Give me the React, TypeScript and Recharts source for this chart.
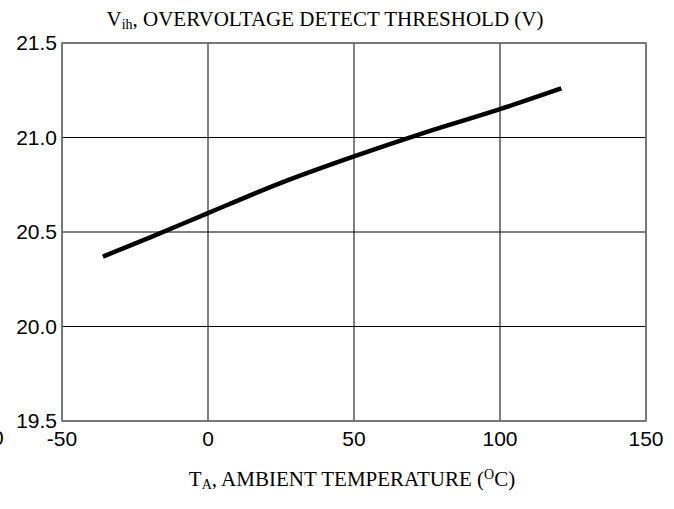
import React from "react";
import {
  CartesianGrid,
  Line,
  LineChart,
  ReferenceArea,
  XAxis,
  YAxis,
} from "recharts";

const temps = [-36, -20, 0, 25, 50, 75, 100, 121];
const thresholds = [20.37, 20.47, 20.6, 20.76, 20.9, 21.03, 21.15, 21.26];
const xTicks = [-50, 0, 50, 100, 150];
const yTicks = [19.5, 20.0, 20.5, 21.0, 21.5];

const data = temps.map((t, i) => ({ t, v: thresholds[i] }));

const sans = "'Liberation Sans', Arial, sans-serif";
const serif = "'Liberation Serif', 'Times New Roman', serif";

export default function App() {
  return (
    <div
      style={{
        position: "absolute",
        left: 0,
        top: 0,
        width: 674,
        height: 509,
        background: "#fff",
        overflow: "hidden",
      }}
    >
      <div
        style={{
          position: "absolute",
          left: 0,
          width: 650,
          top: 7,
          textAlign: "center",
          fontFamily: serif,
          fontSize: 21,
          lineHeight: "24px",
          color: "#000",
          whiteSpace: "nowrap",
        }}
      >
        V<sub style={{ fontSize: 14, verticalAlign: "-3px" }}>ih</sub>, OVERVOLTAGE
        DETECT THRESHOLD (V)
      </div>
      <div
        style={{
          position: "absolute",
          left: 0,
          width: 704,
          top: 463,
          textAlign: "center",
          fontFamily: serif,
          fontSize: 21,
          lineHeight: "24px",
          color: "#000",
          whiteSpace: "nowrap",
        }}
      >
        T<sub style={{ fontSize: 14, verticalAlign: "-3px" }}>A</sub>, AMBIENT
        TEMPERATURE (<sup style={{ fontSize: 14, verticalAlign: "7px" }}>O</sup>C)
      </div>
      <div
        style={{
          position: "absolute",
          left: -8,
          top: 426,
          fontFamily: sans,
          fontSize: 21,
          lineHeight: "24px",
          color: "#000",
        }}
      >
        0
      </div>
      <LineChart
        width={674}
        height={509}
        data={data}
        margin={{ top: 43, right: 28, left: 0, bottom: 0 }}
      >
        <CartesianGrid stroke="#000" strokeWidth={1} />
        <XAxis
          dataKey="t"
          type="number"
          domain={[-50, 150]}
          ticks={xTicks}
          height={88}
          tickLine={false}
          axisLine={false}
          tickSize={0}
          tickMargin={10}
          tick={{ fill: "#000", fontSize: 21, fontFamily: sans }}
        />
        <YAxis
          type="number"
          domain={[19.5, 21.5]}
          ticks={yTicks}
          width={62}
          tickLine={false}
          axisLine={false}
          tickSize={0}
          tickMargin={5}
          tickFormatter={(v) => Number(v).toFixed(1)}
          tick={{ fill: "#000", fontSize: 21, fontFamily: sans }}
        />
        <ReferenceArea
          x1={-50}
          x2={150}
          y1={19.5}
          y2={21.5}
          fill="none"
          fillOpacity={0}
          stroke="#777"
          strokeWidth={1.5}
        />
        <Line
          type="monotone"
          dataKey="v"
          stroke="#000"
          strokeWidth={4.5}
          dot={false}
          isAnimationActive={false}
        />
      </LineChart>
    </div>
  );
}
